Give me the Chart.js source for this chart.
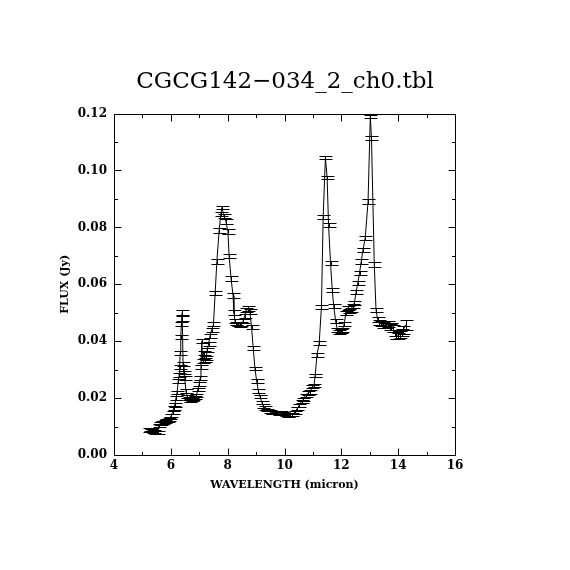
<!DOCTYPE html>
<html lang="en">
<head>
    <meta charset="UTF-8">
    <title>CGCG142-034_2_ch0.tbl</title>
    <script src="https://cdn.jsdelivr.net/npm/chart.js"></script>
    <style>
        html, body { margin: 0; padding: 0; background: #fff; }
    </style>
</head>
<body>
    <canvas id="spectrum" width="570" height="570"></canvas>

    <script>
        // spectrum: wavelength (micron), flux (Jy), 1-sigma error (Jy)
        const wavelength = [
            5.22, 5.26, 5.30, 5.34, 5.38, 5.42, 5.46, 5.50, 5.54, 5.58,
            5.62, 5.66, 5.70, 5.74, 5.78, 5.82, 5.86, 5.90, 5.94, 5.98,
            6.02, 6.06, 6.10, 6.14, 6.18, 6.22, 6.26, 6.29, 6.31, 6.33,
            6.35, 6.37, 6.38, 6.40, 6.43, 6.46, 6.49, 6.53, 6.58, 6.63,
            6.68, 6.73, 6.78, 6.84, 6.90, 6.95, 7.00, 7.03, 7.06, 7.09,
            7.12, 7.16, 7.20, 7.24, 7.28, 7.33, 7.38, 7.44, 7.50, 7.56,
            7.62, 7.70, 7.76, 7.80, 7.87, 7.94, 8.01, 8.05, 8.12, 8.19,
            8.22, 8.26, 8.30, 8.36, 8.42, 8.48, 8.54, 8.60, 8.66, 8.72,
            8.78, 8.84, 8.90, 8.96, 9.02, 9.08, 9.14, 9.20, 9.26, 9.32,
            9.40, 9.48, 9.56, 9.64, 9.72, 9.80, 9.88, 9.96, 10.04, 10.12,
            10.20, 10.28, 10.36, 10.44, 10.52, 10.60, 10.66, 10.74, 10.82, 10.90,
            10.98, 11.04, 11.08, 11.14, 11.22, 11.30, 11.36, 11.44, 11.50, 11.55,
            11.62, 11.68, 11.73, 11.80, 11.86, 11.92, 11.98, 12.04, 12.10, 12.16,
            12.22, 12.28, 12.34, 12.40, 12.46, 12.52, 12.58, 12.64, 12.70, 12.76,
            12.84, 12.94, 13.02, 13.06, 13.16, 13.22, 13.28, 13.34, 13.40, 13.46,
            13.52, 13.58, 13.64, 13.70, 13.76, 13.82, 13.88, 13.94, 14.00, 14.06,
            14.12, 14.18, 14.26
        ];
        const flux = [
            0.0088, 0.0090, 0.0086, 0.0089, 0.0084, 0.0082, 0.0080, 0.0078, 0.0080, 0.0105,
            0.0110, 0.0112, 0.0115, 0.0113, 0.0118, 0.0120, 0.0122, 0.0120, 0.0125, 0.0130,
            0.0140, 0.0150, 0.0165, 0.0176, 0.0200, 0.0220, 0.0260, 0.0280, 0.0310, 0.0360,
            0.0415, 0.0460, 0.0480, 0.0500, 0.0320, 0.0290, 0.0270, 0.0225, 0.0205, 0.0198,
            0.0192, 0.0195, 0.0198, 0.0202, 0.0210, 0.0230, 0.0250, 0.0270, 0.0310, 0.0400,
            0.0330, 0.0360, 0.0335, 0.0340, 0.0370, 0.0390, 0.0420, 0.0440, 0.0460, 0.0570,
            0.0680, 0.0790, 0.0848, 0.0870, 0.0840, 0.0820, 0.0785, 0.0700, 0.0620, 0.0560,
            0.0500, 0.0470, 0.0462, 0.0458, 0.0457, 0.0460, 0.0470, 0.0490, 0.0510, 0.0515,
            0.0505, 0.0450, 0.0375, 0.0305, 0.0260, 0.0225, 0.0205, 0.0185, 0.0172, 0.0165,
            0.0158, 0.0152, 0.0150, 0.0148, 0.0150, 0.0146, 0.0148, 0.0145, 0.0142, 0.0140,
            0.0141, 0.0143, 0.0150, 0.0162, 0.0175, 0.0188, 0.0195, 0.0210, 0.0218, 0.0222,
            0.0240, 0.0245, 0.0280, 0.0350, 0.0392, 0.0520, 0.0835, 0.1045, 0.0975, 0.0810,
            0.0675, 0.0580, 0.0525, 0.0470, 0.0440, 0.0432, 0.0435, 0.0440, 0.0460, 0.0500,
            0.0515, 0.0505, 0.0510, 0.0525, 0.0535, 0.0573, 0.0605, 0.0640, 0.0680, 0.0720,
            0.0763, 0.0890, 0.1190, 0.1115, 0.0670, 0.0510, 0.0475, 0.0465, 0.0462, 0.0458,
            0.0462, 0.0455, 0.0460, 0.0450, 0.0452, 0.0445, 0.0430, 0.0420, 0.0418, 0.0425,
            0.0430, 0.0440, 0.0458
        ];
        const fluxErr = [
            0.0006, 0.0006, 0.0006, 0.0005, 0.0005, 0.0005, 0.0005, 0.0005, 0.0005, 0.0005,
            0.0005, 0.0005, 0.0005, 0.0005, 0.0005, 0.0005, 0.0005, 0.0005, 0.0005, 0.0005,
            0.0005, 0.0006, 0.0006, 0.0006, 0.0006, 0.0006, 0.0006, 0.0007, 0.0007, 0.0007,
            0.0008, 0.0008, 0.0008, 0.0008, 0.0007, 0.0007, 0.0006, 0.0006, 0.0006, 0.0006,
            0.0006, 0.0006, 0.0006, 0.0006, 0.0006, 0.0006, 0.0006, 0.0007, 0.0007, 0.0008,
            0.0007, 0.0007, 0.0007, 0.0007, 0.0007, 0.0007, 0.0007, 0.0008, 0.0008, 0.0008,
            0.0008, 0.0009, 0.0007, 0.0006, 0.0007, 0.0008, 0.0008, 0.0008, 0.0008, 0.0008,
            0.0008, 0.0007, 0.0006, 0.0006, 0.0006, 0.0006, 0.0007, 0.0007, 0.0007, 0.0008,
            0.0008, 0.0007, 0.0007, 0.0006, 0.0006, 0.0006, 0.0006, 0.0006, 0.0006, 0.0006,
            0.0005, 0.0005, 0.0005, 0.0005, 0.0005, 0.0005, 0.0005, 0.0005, 0.0005, 0.0005,
            0.0005, 0.0005, 0.0005, 0.0005, 0.0005, 0.0006, 0.0006, 0.0006, 0.0006, 0.0006,
            0.0006, 0.0006, 0.0006, 0.0007, 0.0007, 0.0007, 0.0007, 0.0005, 0.0006, 0.0007,
            0.0007, 0.0007, 0.0007, 0.0007, 0.0007, 0.0007, 0.0007, 0.0007, 0.0007, 0.0007,
            0.0007, 0.0007, 0.0007, 0.0007, 0.0008, 0.0008, 0.0008, 0.0008, 0.0008, 0.0008,
            0.0008, 0.0009, 0.0005, 0.0008, 0.0009, 0.0008, 0.0009, 0.0009, 0.0010, 0.0010,
            0.0010, 0.0010, 0.0010, 0.0011, 0.0011, 0.0011, 0.0011, 0.0011, 0.0012, 0.0012,
            0.0013, 0.0014, 0.0017
        ];

        const FONT = '"DejaVu Serif", "Liberation Serif", serif';
        Chart.defaults.color = '#000';
        Chart.defaults.font.family = FONT;

        // vertical error bars with wide caps, placed through the chart scales
        const errorBars = {
            id: 'errorBars',
            afterDatasetsDraw(chart) {
                const { ctx, scales: { x, y } } = chart;
                ctx.save();
                ctx.strokeStyle = '#000';
                ctx.lineWidth = 1;
                ctx.beginPath();
                wavelength.forEach((w, i) => {
                    const px = Math.round(x.getPixelForValue(w)) + 0.5;
                    const top = Math.round(y.getPixelForValue(flux[i] + fluxErr[i])) + 0.5;
                    const bot = Math.round(y.getPixelForValue(flux[i] - fluxErr[i])) + 0.5;
                    ctx.moveTo(px, top); ctx.lineTo(px, bot);
                    ctx.moveTo(px - 6, top); ctx.lineTo(px + 7, top);
                    ctx.moveTo(px - 6, bot); ctx.lineTo(px + 7, bot);
                });
                ctx.stroke();
                ctx.restore();
            }
        };

        // box round the plot with inward ticks on all four sides
        const frameTicks = {
            id: 'frameTicks',
            afterDraw(chart) {
                const { ctx, chartArea: a, scales: { x, y } } = chart;
                const L = Math.round(a.left) + 0.5, R = Math.round(a.right) + 0.5;
                const T = Math.round(a.top) + 0.5, B = Math.round(a.bottom) + 0.5;
                ctx.save();
                ctx.strokeStyle = '#000';
                ctx.lineWidth = 1;
                ctx.beginPath();
                ctx.rect(L, T, R - L, B - T);
                x.ticks.forEach(t => {
                    const px = Math.round(x.getPixelForValue(t.value)) + 0.5;
                    const len = Math.round(t.value) % 2 === 0 ? 7 : 3.5;
                    ctx.moveTo(px, B); ctx.lineTo(px, B - len);
                    ctx.moveTo(px, T); ctx.lineTo(px, T + len);
                });
                y.ticks.forEach(t => {
                    const py = Math.round(y.getPixelForValue(t.value)) + 0.5;
                    const len = Math.round(t.value * 100) % 2 === 0 ? 7 : 3.5;
                    ctx.moveTo(L, py); ctx.lineTo(L + len, py);
                    ctx.moveTo(R, py); ctx.lineTo(R - len, py);
                });
                ctx.stroke();
                ctx.restore();
            }
        };

        const ctx = document.getElementById('spectrum').getContext('2d');
        new Chart(ctx, {
            type: 'scatter',
            data: {
                datasets: [{
                    data: wavelength.map((w, i) => ({ x: w, y: flux[i] })),
                    showLine: true,
                    borderColor: '#000',
                    borderWidth: 1,
                    pointRadius: 0,
                    tension: 0
                }]
            },
            options: {
                responsive: false,
                animation: false,
                devicePixelRatio: 1,
                layout: { padding: { left: 0, right: 0, top: 0, bottom: 55 } },
                plugins: {
                    legend: { display: false },
                    tooltip: { enabled: false },
                    title: {
                        display: true,
                        text: 'CGCG142\u2212034_2_ch0.tbl',
                        font: { family: FONT, size: 23, weight: 'normal' },
                        padding: { top: 68, bottom: 18 },
                        color: '#000'
                    }
                },
                scales: {
                    x: {
                        type: 'linear',
                        min: 4,
                        max: 16,
                        afterFit: s => { s.height = 60; },
                        grid: { display: false, drawTicks: false },
                        border: { display: false },
                        ticks: {
                            stepSize: 1,
                            autoSkip: false,
                            maxRotation: 0,
                            padding: 4,
                            font: { size: 12, weight: 'bold' },
                            callback: v => (Math.round(v) % 2 === 0 ? String(v) : '')
                        },
                        title: {
                            display: true,
                            text: 'WAVELENGTH (micron)',
                            font: { size: 11, weight: 'bold' },
                            padding: { top: 0, bottom: 23 }
                        }
                    },
                    y: {
                        type: 'linear',
                        min: 0,
                        max: 0.12,
                        afterFit: s => { s.width = 114; },
                        grid: { display: false, drawTicks: false },
                        border: { display: false },
                        ticks: {
                            stepSize: 0.01,
                            autoSkip: false,
                            padding: 7,
                            font: { size: 12, weight: 'bold' },
                            callback: v => (Math.round(v * 100) % 2 === 0 ? v.toFixed(2) : '')
                        },
                        title: {
                            display: true,
                            text: 'FLUX (Jy)',
                            font: { size: 11, weight: 'bold' },
                            padding: { top: 59, bottom: 0 }
                        }
                    },
                    // empty right-hand axis, only keeps the margin so the title centres on the page
                    yRight: {
                        type: 'linear',
                        position: 'right',
                        min: 0,
                        max: 0.12,
                        afterFit: s => { s.width = 115; },
                        grid: { display: false, drawTicks: false },
                        border: { display: false },
                        ticks: { display: false }
                    }
                }
            },
            plugins: [errorBars, frameTicks]
        });
    </script>
</body>
</html>
